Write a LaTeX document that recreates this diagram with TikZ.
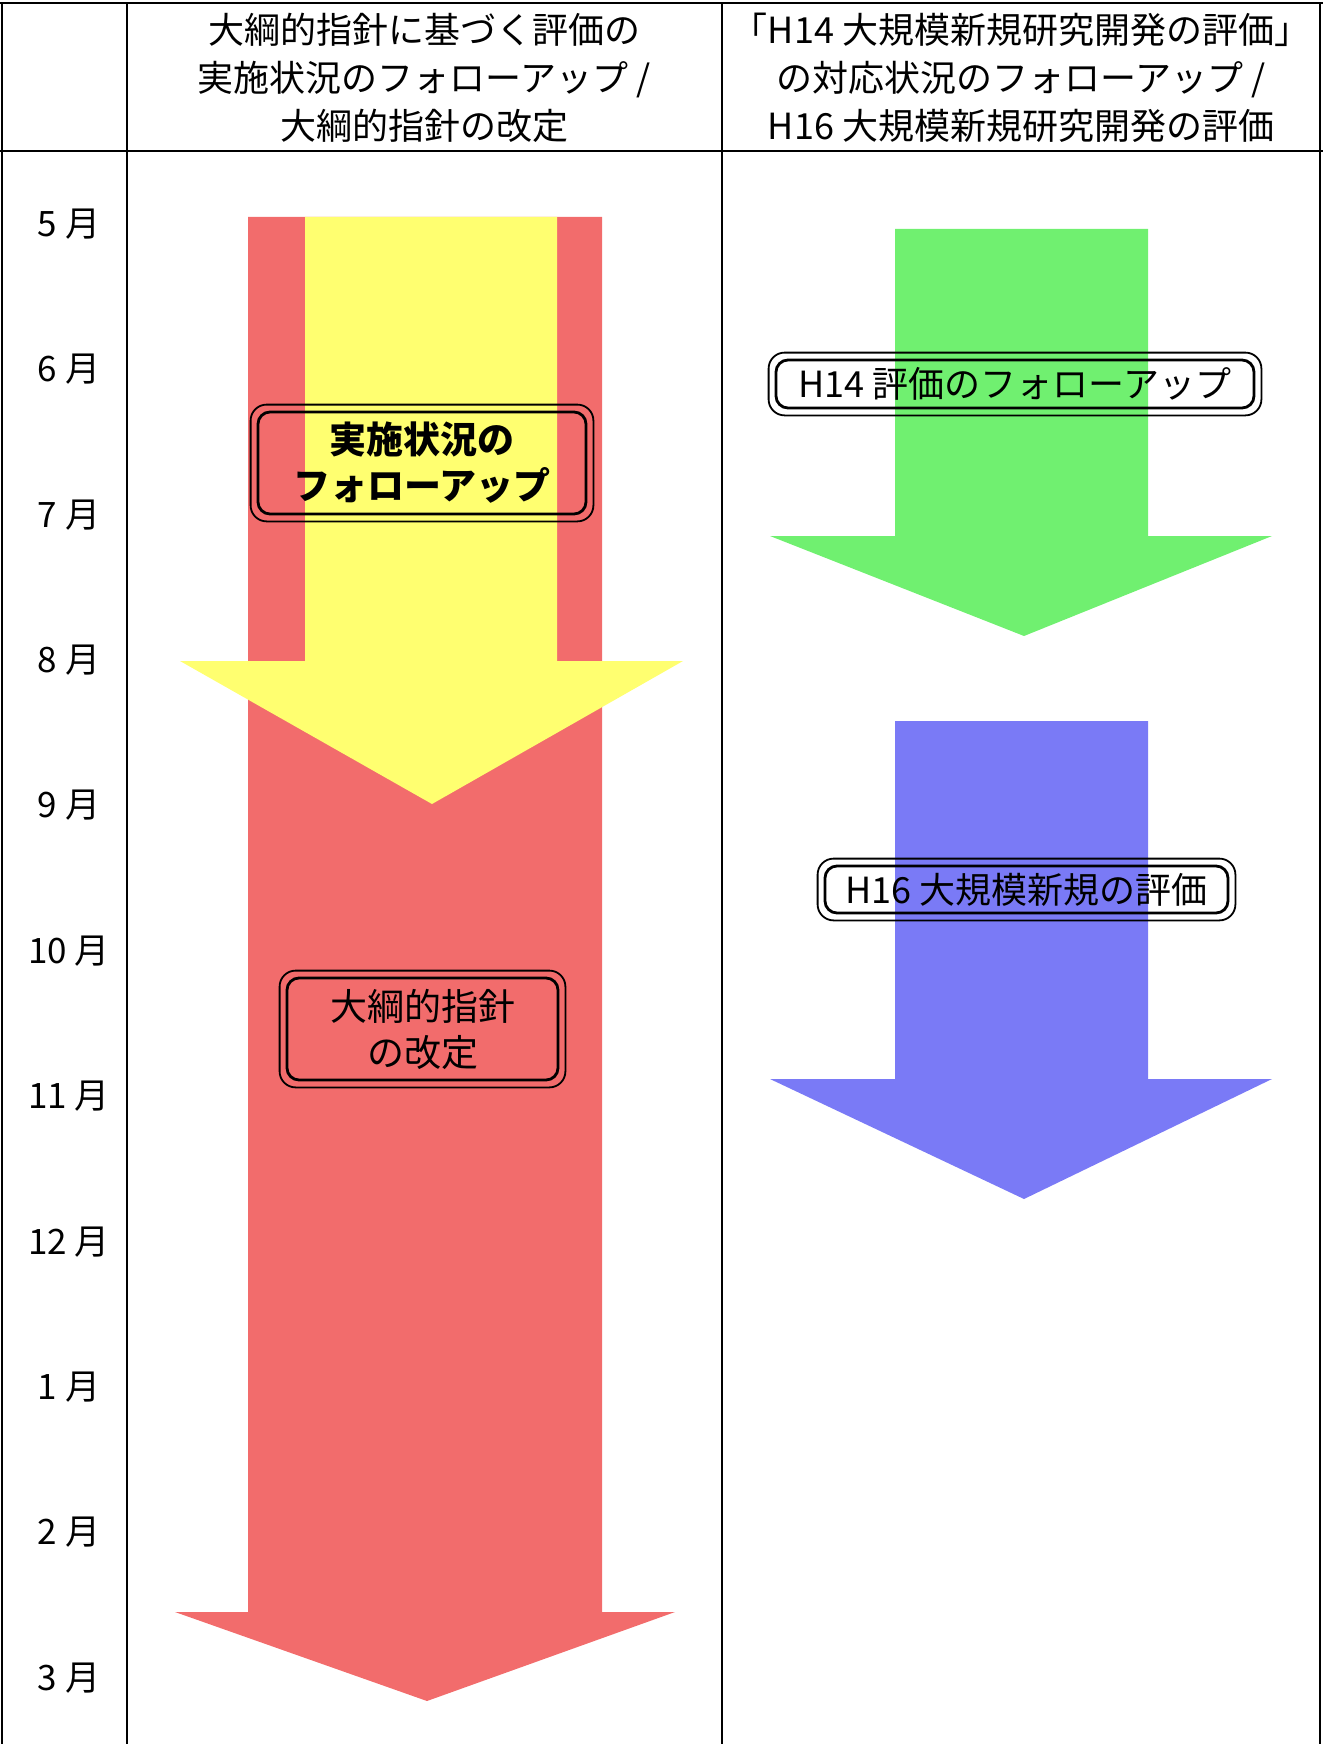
\documentclass[tikz,border=0pt]{standalone}
\usepackage{fontspec}
\setmainfont{Noto Sans CJK JP}
\usetikzlibrary{positioning}
\definecolor{arrowred}{RGB}{242,108,108}
\definecolor{arrowyellow}{RGB}{255,255,112}
\definecolor{arrowgreen}{RGB}{112,240,112}
\definecolor{arrowblue}{RGB}{122,122,246}

\begin{document}
\begin{tikzpicture}[x=0.5pt,y=-0.5pt,
  rule/.style={line width=1.3pt},
  head/.style={align=center,inner sep=0pt,font=\fontsize{18}{24}\selectfont},
  month/.style={inner sep=0pt,font=\fontsize{17.5}{20}\selectfont},
  tag/.style={draw,line width=1.4pt,rounded corners=6pt,align=center,inner sep=0pt,font=\fontsize{18}{23}\selectfont}]
  \useasboundingbox (0,0) rectangle (1323,1744);

  % arrows
  \foreach \c/\l/\r/\t/\b/\hl/\hr/\tx/\ty in {arrowred/248/602/217/1612/175/675/427/1701,
      arrowyellow/305/557/217/661/180/683/432/804,
      arrowgreen/895/1148/229/536/770/1272/1024/636,
      arrowblue/895/1148/721/1079/770/1272/1024/1199}
    \fill [\c] (\l,\t) -- (\r,\t) -- (\r,\b) -- (\hr,\b) -- (\tx,\ty) -- (\hl,\b) -- (\l,\b) -- cycle;

  % table
  \draw [rule] (0,3) -- (1323,3);
  \draw [rule] (0,151) -- (1323,151);
  \foreach \x in {2,127,722,1320}
    \draw [rule] (\x,3) -- (\x,1744);

  \node (head1) [head] at (424,78) {大綱的指針に基づく評価の\\実施状況のフォローアップ /\\大綱的指針の改定};
  \node (head2) [head] at (1021,78) {「H14 大規模新規研究開発の評価」\\の対応状況のフォローアップ /\\H16 大規模新規研究開発の評価};

  \foreach \m [count=\i from 0] in {5,6,7,8,9,10,11,12,1,2,3}
    \node (m-\i) [month] at (69,{224+145.4*\i}) {\m\ 月};

  % labels
  \node (follow) [tag,minimum width=164pt,minimum height=51pt,font=\fontsize{18.5}{23}\selectfont\bfseries] at (422,463) {実施状況の\\フォローアップ};
  \node (revise) [tag,minimum width=135.5pt,minimum height=51pt,font=\fontsize{18.5}{23}\selectfont] at (422.5,1029) {大綱的指針\\の改定};
  \node (h14) [tag,minimum width=239pt,minimum height=24pt] at (1015,384) {H14 評価のフォローアップ};
  \node (h16) [tag,minimum width=201.5pt,minimum height=23.5pt] at (1026.5,889.5) {H16 大規模新規の評価};

  \foreach \n in {follow,revise,h14,h16}
    \draw [line width=0.9pt,rounded corners=8pt] ([shift={(-6,-6)}]\n.north west) rectangle ([shift={(6,6)}]\n.south east);
\end{tikzpicture}
\end{document}
